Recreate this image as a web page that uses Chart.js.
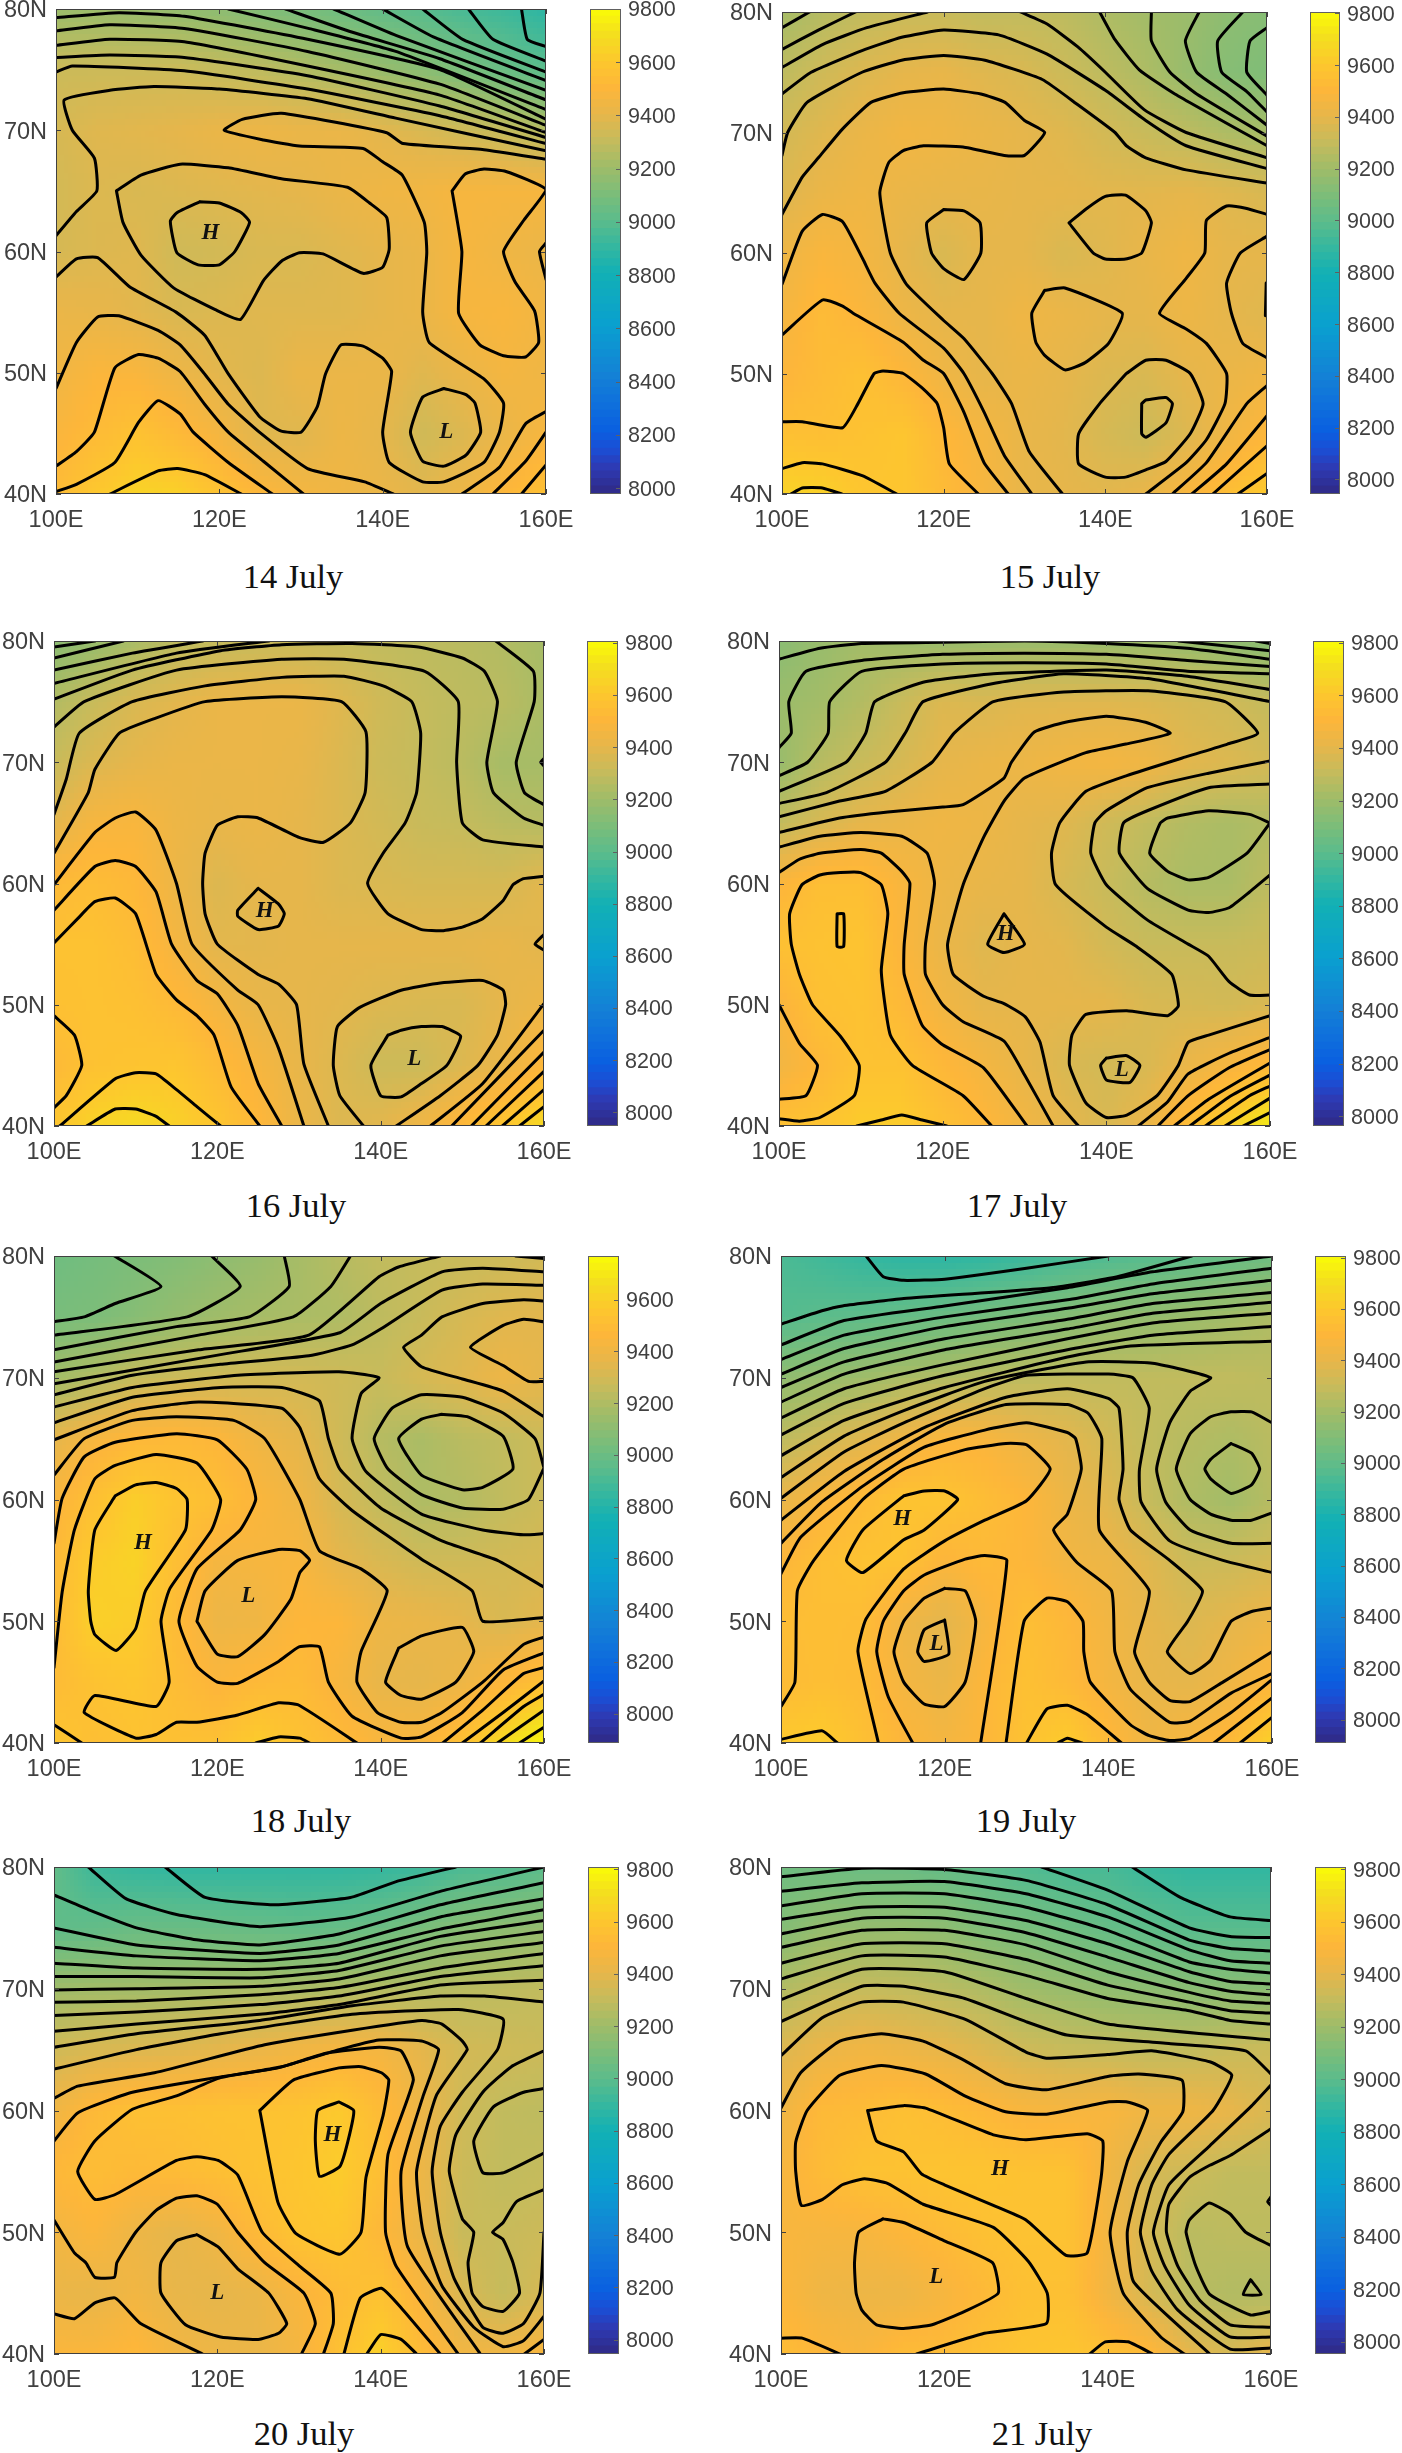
<!DOCTYPE html>
<html>
<head>
<meta charset="utf-8">
<title>Geopotential height, 14-21 July</title>
<script src="https://cdn.jsdelivr.net/npm/chart.js@4"></script>
<style>
  html, body { margin: 0; background: #fff; }
  #page { position: relative; width: 1402px; height: 2453px; overflow: hidden; }
  #page canvas { position: absolute; }
  .day { position: absolute; transform: translate(-50%, -50%); font: 34.5px 'Liberation Serif', serif; color: #111; white-space: nowrap; }
</style>
</head>
<body>
<div id="page"></div>
<script>
// ---- Shared axes ---------------------------------------------
const lonGrid = [100, 105, 110, 115, 120, 125, 130, 135, 140, 145, 150, 155, 160];
const latGrid = [80, 75, 70, 65, 60, 55, 50, 45, 40];
const lonTicks = [100, 120, 140, 160];
const latTicks = [40, 50, 60, 70, 80];
const barTicks = [8000, 8200, 8400, 8600, 8800, 9000, 9200, 9400, 9600, 9800];

// colour ramp (height -> colour)
const rampValues = [7960, 8060, 8130, 8200, 8300, 8400, 8600, 8800, 8900, 9000, 9100, 9200, 9300, 9400, 9500, 9600, 9700, 9805];
const rampColors = ['#2f2a85', '#2d3bb5', '#1a4fd6', '#0a60e0', '#0f70dc', '#1480d6', '#0aa0cf', '#12b0b5', '#35b79f', '#5cbc8b', '#7cbd79', '#9fbc69', '#c5bb5c', '#e6b64b', '#fdb63a', '#fdc72e', '#f4de1f', '#fafc06'];

// ---- Height fields, rows follow latGrid, columns lonGrid ---------
const field14 = [
  9190,9190,9180,9170,9150,9120,9090,9060,9020,8990,8950,8920,8880,
  9320,9320,9320,9320,9300,9280,9250,9220,9180,9140,9090,9040,9000,
  9350,9380,9390,9400,9420,9430,9420,9420,9390,9360,9330,9300,9260,
  9340,9370,9360,9370,9380,9390,9400,9420,9440,9450,9470,9470,9470,
  9350,9370,9380,9330,9340,9360,9360,9380,9400,9420,9470,9440,9420,
  9420,9410,9390,9360,9370,9380,9380,9380,9400,9420,9470,9480,9450,
  9440,9490,9480,9430,9390,9370,9420,9420,9420,9380,9420,9460,9440,
  9480,9530,9570,9520,9460,9380,9380,9430,9400,9330,9370,9420,9470,
  9530,9600,9650,9640,9570,9500,9460,9440,9420,9390,9430,9500,9560];
const field15 = [
  9220,9260,9290,9310,9310,9290,9290,9280,9240,9210,9190,9150,9130,
  9280,9330,9370,9400,9410,9380,9360,9320,9280,9240,9180,9130,9110,
  9340,9380,9420,9450,9440,9420,9400,9380,9340,9310,9280,9240,9220,
  9370,9420,9440,9420,9410,9410,9400,9400,9390,9390,9400,9380,9360,
  9430,9480,9460,9400,9360,9400,9400,9360,9380,9410,9440,9400,9400,
  9460,9530,9490,9430,9400,9400,9440,9420,9400,9400,9430,9400,9380,
  9490,9530,9560,9500,9440,9400,9420,9400,9370,9360,9400,9420,9440,
  9560,9550,9570,9590,9510,9460,9410,9390,9350,9320,9370,9440,9500,
  9650,9640,9590,9590,9530,9470,9410,9400,9390,9410,9480,9540,9610];
const field16 = [
  9140,9180,9230,9280,9300,9310,9310,9300,9290,9280,9270,9250,9220,
  9250,9310,9360,9390,9420,9420,9420,9380,9330,9300,9280,9270,9230,
  9310,9370,9400,9420,9420,9420,9410,9370,9320,9300,9270,9220,9220,
  9390,9470,9480,9430,9410,9420,9400,9370,9340,9310,9300,9270,9260,
  9520,9540,9510,9430,9370,9400,9400,9370,9360,9350,9350,9350,9390,
  9570,9570,9540,9460,9390,9390,9400,9400,9400,9400,9400,9410,9390,
  9560,9570,9560,9520,9460,9410,9400,9390,9370,9360,9360,9400,9430,
  9520,9570,9580,9590,9530,9470,9410,9370,9320,9320,9370,9420,9500,
  9590,9650,9680,9640,9590,9510,9420,9370,9390,9440,9510,9590,9680];
const field17 = [
  9140,9180,9210,9200,9190,9190,9190,9190,9190,9190,9180,9160,9140,
  9190,9210,9250,9310,9370,9360,9380,9380,9380,9370,9350,9330,9300,
  9180,9260,9310,9350,9400,9420,9430,9450,9460,9440,9390,9370,9340,
  9290,9350,9400,9420,9440,9430,9400,9380,9330,9290,9250,9230,9250,
  9490,9550,9550,9480,9430,9410,9400,9350,9310,9260,9230,9230,9280,
  9560,9570,9580,9490,9420,9380,9400,9390,9340,9310,9310,9310,9320,
  9480,9560,9570,9520,9450,9400,9400,9400,9400,9360,9350,9340,9360,
  9450,9510,9570,9570,9510,9460,9410,9360,9340,9360,9420,9470,9520,
  9560,9580,9620,9620,9560,9510,9450,9400,9360,9420,9540,9640,9740];
const field18 = [
  9060,9080,9100,9120,9150,9180,9220,9260,9290,9300,9310,9320,9340,
  9090,9100,9130,9170,9200,9220,9230,9240,9280,9310,9350,9380,9390,
  9210,9250,9300,9320,9330,9340,9340,9330,9310,9350,9380,9430,9400,
  9400,9470,9510,9520,9500,9440,9400,9330,9260,9230,9270,9290,9320,
  9480,9560,9630,9580,9550,9490,9440,9350,9290,9240,9250,9290,9320,
  9520,9620,9650,9550,9460,9470,9480,9400,9360,9330,9330,9340,9350,
  9530,9640,9620,9530,9430,9440,9500,9500,9430,9420,9400,9360,9390,
  9530,9570,9590,9540,9490,9520,9530,9470,9410,9400,9430,9500,9560,
  9590,9550,9570,9560,9560,9620,9570,9530,9480,9480,9560,9680,9780];
const field19 = [
  8960,8930,8900,8880,8880,8890,8920,8950,8970,8990,9010,9040,9060,
  8980,9000,9010,9030,9050,9080,9100,9130,9160,9170,9190,9210,9240,
  9160,9180,9200,9230,9250,9270,9280,9290,9290,9290,9290,9290,9280,
  9280,9330,9380,9440,9490,9480,9430,9390,9340,9290,9260,9240,9270,
  9410,9480,9530,9580,9580,9540,9500,9430,9380,9300,9240,9210,9260,
  9500,9550,9570,9570,9490,9520,9500,9450,9430,9380,9320,9320,9340,
  9540,9550,9540,9440,9390,9470,9550,9510,9450,9400,9370,9400,9430,
  9530,9550,9530,9460,9420,9500,9560,9520,9460,9410,9400,9440,9500,
  9610,9620,9560,9500,9460,9500,9570,9620,9520,9440,9480,9520,9640];
const field20 = [
  9020,8920,8900,8890,8890,8890,8890,8890,8900,8920,8960,8970,9000,
  9010,9020,9040,9040,9040,9030,9020,9030,9050,9090,9130,9150,9170,
  9200,9210,9210,9210,9220,9230,9230,9240,9250,9250,9270,9280,9290,
  9330,9360,9370,9380,9400,9420,9450,9470,9460,9400,9340,9330,9320,
  9440,9520,9560,9560,9570,9570,9580,9610,9530,9430,9330,9290,9280,
  9510,9540,9520,9530,9550,9570,9590,9620,9550,9430,9320,9290,9300,
  9450,9490,9430,9400,9440,9520,9580,9590,9510,9420,9310,9310,9320,
  9420,9410,9450,9410,9400,9420,9480,9530,9570,9480,9360,9300,9350,
  9490,9490,9510,9450,9430,9420,9460,9560,9640,9530,9450,9440,9480];
const field21 = [
  9060,9060,9050,9050,9030,9000,8970,8950,8950,8910,8890,8890,8890,
  9120,9170,9170,9170,9150,9110,9090,9060,9030,9010,8990,8990,8990,
  9250,9290,9300,9290,9270,9240,9200,9180,9160,9150,9140,9140,9140,
  9370,9420,9450,9430,9410,9370,9330,9310,9300,9290,9290,9310,9320,
  9440,9520,9530,9560,9540,9510,9480,9470,9480,9440,9440,9410,9360,
  9470,9530,9570,9570,9580,9580,9570,9570,9450,9350,9320,9290,9290,
  9480,9470,9470,9500,9530,9560,9570,9570,9460,9350,9270,9280,9280,
  9490,9440,9430,9430,9470,9520,9560,9560,9450,9350,9270,9250,9250,
  9540,9500,9480,9530,9530,9560,9580,9590,9560,9520,9400,9350,9400];

// ---- Contour lines, each one lon,lat,lon,lat,... ----------------
const lines14 = [
  [157,80,157.7,77.5,160,76.9],
  [150.5,80,153.5,77.5,160,75.7],
  [144.9,80,149.8,77.5,160,74.8],
  [140,80,146.2,77.7,160,74.1],
  [134,80,141.7,77.8,160,73.3],
  [128.1,80,136.2,78.1,147,75.9,160,72.5],
  [121.1,80,130.9,78.4,141.6,76.5,160,71.7],
  [100,79.3,107.7,79.7,115.7,79.4,130.8,77.5,147,75,160,70.9],
  [100,78.2,106.6,78.7,115.7,78.4,130.8,76.5,147,73.8,160,70.4],
  [100,77,106.6,77.5,115.7,77.3,130.8,75.3,147,72.9,160,69.8],
  [100,76,106.6,76.2,115.7,76,130.8,74.5,147,72,160,69.4],
  [100,74.8,102,75.3,115.7,74.9,130.8,73.4,147,71.2,160,68.9],
  [100,61.3,102.5,63.3,105,65,104.7,67.7,102,70,101,72.5,106.6,73.3,112,73.6,120,73.4,130.8,72.6,141.6,71,160,68.3],
  [160,67.6,152.4,68.4,142.5,68.9,140.5,69.8,127.6,71.4,122.8,70.9,120.6,70,125.4,69.2,129.8,68.7,137.6,68.5,140,67.4,142.4,66.3,145.1,62.4,145.4,59.9,144.9,55,145.7,52.5,152.4,49.5,154.8,47.5,154.3,45.1,152.4,42.6,147.5,41,144.9,41,140.8,42.6,140,45.1,141.1,50.1,140,51.2,137.6,52.2,134.9,52.3,133,49.9,132,47.2,130,45.1,127.5,45.2,124.9,46.4,121.1,49.9,118.2,53.1,114.7,55,109,57.1,105.1,59.5,102.5,59.4,100,57.9],
  [117.6,64.1,120,64,122.7,63.2,123.7,62.4,121.9,60,120,58.9,117.4,58.9,114.8,59.9,114,62.5,114.8,63.2,117.6,64.1],
  [107.4,65,110.4,66.3,115.2,67.2,121.1,66.9,127.6,66,135.7,65.3,138.4,64,140.5,62.8,140.8,60.2,140,58.7,137.6,58.2,132.7,59.8,129.8,59.9,127.6,59.2,125.4,57.6,122.6,54.4,119.5,55.2,114.4,57,110.4,59.7,108.2,62.4,107.4,65],
  [148.5,65,150.1,66.4,152.4,66.8,155.1,66.6,160,65.1,157.3,62.6,154.8,60,156.2,57.5,158.6,55.1,159.1,52.5,157.5,51.3,154.8,51.4,151.9,52.3,149.3,54.9,149.7,60,148.5,65],
  [160,60.7,159.2,60,160,57.7],
  [147.5,48.7,150.2,48.2,151.3,47.5,152,45.1,150.2,43.2,147.5,42.3,144.9,42.7,143.4,45.1,144.9,48,147.5,48.7],
  [100,48.7,102.5,52.5,105.1,54.6,107.7,54.7,112.5,53.5,115.2,52.3,118.2,49.9,121.1,47.4,124.9,45.1,130.8,42.1,137.8,41,141.3,40],
  [100,42.3,102.5,43.5,104.7,45.1,107.2,50.4,110.1,51.5,112.5,51.2,115.2,50.1,118.2,47.4,121.1,45.1,125.4,42.7,130.3,40],
  [100,40.2,102.5,40.8,107.2,42.6,110.1,45.9,112.5,47.7,115.2,46.6,116.8,45.1,121.1,42.6,126.5,40],
  [106.6,40,112.5,41.9,114.9,42.1,118.2,41.6,122.7,40],
  [149.7,40,154.3,42.2,157.5,45.8,160,46.8],
  [153.5,40,157.5,42.7,160,45.1],
  [157,40,160,42.4]];
const lines15 = [
  [100,78.7,103.4,80],
  [100,76.9,104.5,78.5,109.1,80],
  [100,75.4,105,77.3,110.5,78.7,118,80],
  [100,73.2,103.6,75,109.9,76.8,114.8,77.9,120,78.5,126.8,78.1,132.8,76.5,140,73.5,145,71,150,68.9,160,67],
  [100,68.1,100.7,70,103.1,72.5,109.9,75,114.8,76,120,76.4,125.1,76,132.2,74.4,136.6,72.3,141.2,70,142.6,68.9,145,67.9,150,66.9,160,65.8],
  [100,63.2,102.5,66.3,104.5,67.9,107.5,70.3,111,72.5,115,73.3,120,73.6,124.6,73.2,127.6,72.5,130,71,132.5,70,130,68.1,127.5,68.1,122.4,68.8,117.5,68.9,115,68.5,113.2,67.5,112.1,65,113.4,60,115.4,57.4,120,54.4,122.5,52.9,126,50,128.4,47.5,130.6,43.5,134.7,40],
  [100,57.4,102.5,61.8,105,63.2,107.5,62.6,110,59.5,111.5,57.5,114.5,55,120,52.1,122.5,50,125,46.8,127.5,43.2,130.9,40],
  [100,53.2,105,56.1,107.5,55.6,108.8,55,115,52.6,117.5,51.1,120,50,122.5,46.8,125,42.6,128,40],
  [100,46,102.5,46,107.5,45.5,109.4,47.5,111.4,50,112.5,50.2,115,50,117.5,48.7,119.2,47.5,120,45.5,120.7,42.5,124.3,40],
  [100,42.1,102.5,42.6,105,42.5,110,41.5,114.2,40],
  [101.1,40,102.5,40.5,105,40.5,107.4,40],
  [160,78.7,157.9,77.6,157.5,75,160,73.1],
  [157,80,153.9,77.6,154.4,75,157.5,73.4,160,71.7],
  [151.6,80,149.9,77.6,151.3,75,155,73.2,160,70.6],
  [145.7,80,145.7,77.6,148,75,151.3,73.2,160,69.7],
  [139.3,80,141.2,77.7,144.2,75.2,148.6,73.2,160,68.9],
  [129.5,80,132.8,79,136.6,77.1,140,75,144.8,71.9,150,70,160,67.9],
  [120,63.6,122.5,63.5,124.5,62.5,124.6,60,122.5,57.8,120,58.7,118.5,60,117.9,62.5,120,63.6],
  [135.5,62.5,137.7,63.7,140,64.7,142.5,64.8,145,63.5,145.7,62.5,144.5,60,142.5,59.5,140,59.5,138.5,60,135.5,62.5],
  [132.5,56.9,135,57.1,142.1,55,140.4,52.5,137.5,50.9,135,50.3,132.5,51.5,131.4,52.6,130.9,55,132.5,56.9],
  [142.6,50,145,51.1,147.5,51.1,150.5,50,152.1,47.5,150.5,45,147.5,42.7,145,42,142.5,41.4,140,41.4,136.7,42.5,136.7,45,139.3,47.5,142.6,50],
  [144.5,47.5,145,47.8,147.5,48,148.3,47.5,147.5,45.9,145,44.7,144.5,45,144.5,47.5],
  [160,63.2,157.5,63.7,155,63.9,152.5,62.7,152.3,60,150,57.9,146.7,55,150,53.7,152.5,52.5,155,50,154.8,47.5,152.5,44.5,150,42.6,145,40],
  [160,61.4,156.7,60,155,57.5,155.6,55,157,52.5,160,51.3],
  [159.9,57.5,159.8,54.8],
  [148.3,40,152.5,42.6,157.5,47.5,160,49],
  [150.7,40,155,42.5,160,46.5],
  [153.3,40,160,44],
  [156.4,40,160,41.7]];
const lines16 = [
  [100,79.5,105,80],
  [100,78.6,108.5,80],
  [100,77.6,109.6,79,118.2,80],
  [100,76.5,115,79,126.3,80],
  [100,75.2,109.6,77.6,120.4,79.2,127.9,79.7,136.5,79.8,144.6,79.5,150,78.6,152.7,77.5,154.3,75,153,70,153.8,67.5,157.5,65.4,160,64.8],
  [100,72.9,103.7,75,115,77.6,127.9,78.5,135.5,78.5,145.4,77.5,149.5,75,149.3,70,150,65,152.5,63.6,160,63],
  [100,65.7,101.5,68.6,103.1,72.4,109.6,75,118.5,76.3,127.9,77,135.5,77.1,140.3,76.3,143.8,75,144.9,72.4,144.4,67.5,143,65,140.3,62.5,138.4,60,140.9,57.5,145,56.2,147.5,56.1,150,56.4,152.5,57.1,155,58.6,156.2,59.9,157.5,60.4,160,60.6],
  [100,62.5,104.2,67.5,105,69.4,108,72.4,112.3,73.6,118.5,75,127.9,75.4,135.2,75,138.2,72.5,138.1,67.5,136.3,65,133,63.4,130,63.8,125,65.4,122.5,65.5,120,64.8,118.5,62.5,118.2,60,118.5,57.5,120,55,125,52.5,127.5,51.7,129.7,50,130.6,45.1,133.6,40],
  [154.1,80,158.7,77.5,158.8,75,156.6,70,157.6,67.5,160,66.5],
  [160,70.3,159.6,70,160,69.7],
  [100,59.9,105,64.2,107.5,65.4,110,65.9,112.5,64.4,115,60,116.9,55,122.5,51.2,125,50,127.5,46.4,130.6,40],
  [100,57.8,105,61.4,107.5,61.9,110,61.4,112.5,59.3,114.4,55,117.5,52,120,50.9,122.5,48.3,125,43.5,127.9,40],
  [100,55.1,102.9,57.1,105,58.5,107.5,58.8,110,57.5,112.5,52.5,115,50.4,117.5,49.1,119.6,47.5,121.7,43.2,125.2,40],
  [100,49.1,102.5,47.5,103.4,45,101.5,42.5,100,41.5],
  [100.7,40,107.5,43.9,110,44.4,112.5,44.3,115,43,117.5,41.6,120.4,40],
  [104,40,107.5,41.4,110,41.4,112.5,40.8,114.1,40],
  [125,59.6,127.5,58.3,128.2,57.5,127.5,56.5,125,56.2,122.5,57.3,122.5,57.8,125,59.6],
  [137.9,40,135,42.5,134.2,45,134.7,48.2,137.5,49.8,142.5,51.2,147.3,51.8,152.5,52,155,51.2,155.3,50,154.3,47.5,151.9,45,147.3,42.5,141.9,40],
  [140.9,47.5,142.5,47.9,145,48.2,147.5,48.2,149.8,47.4,148.1,45,145,43.5,142.5,42.4,140,42.5,138.8,45,140.9,47.5],
  [160,55.8,158.9,55,160,54.5],
  [146.1,40,152.5,43.5,160,50.1],
  [148.7,40,160,47.9],
  [151.1,40,160,46.1],
  [152.9,40,160,44.5],
  [154.9,40,160,43],
  [157,40,160,41.6]];
const lines17 = [
  [158.3,80,160,79.8],
  [148.8,80,160,79.2],
  [100,78.5,105,79.4,110.1,79.8,120,79.9,130,80,140,79.8,149.9,79.4,160,78.5],
  [100,71.2,101.5,72.4,101.2,75,103.3,77.5,110.1,78.4,120,78.9,130,79,140,78.9,149.9,78.4,160,77.9],
  [100,68.9,103.5,70,106,72.4,106.2,75,110.1,77.5,120,78.1,130,78.2,140,78.1,149.9,77.5,160,77.3],
  [100,67.6,108.2,70,110.6,72.4,111.7,75,117.6,76.6,126.2,77.3,140,77.6,149.9,77.1,160,76],
  [100,66.6,105.8,67.5,113,70,115.5,72.5,117.6,75,126.2,76.5,134.8,77.3,145.1,76.9,160,75],
  [100,65.5,107.4,66.8,113,67.6,118.7,70,121.4,72.4,126.2,75,134.8,75.8,145.1,75.9,154.5,75,158.5,72.4,154.8,71.5,150,70.5,142.5,68.9,137.5,67.6,134.3,65,133.3,62.5,133.8,59.9,140,56.4,143.7,54.8,148,52.5,148.8,49.9,147.5,49.1,142.5,49.5,137.5,49.2,135.8,47.5,135.5,45,137.5,41.9,140,40.7,142.5,40.9,146.2,42.5,148.8,45,150,46.9,152.5,47.5,160,49.1],
  [100,64.2,107.4,65.4,113.3,65.9,120,66.3,122.5,66.5,127.5,68.7,128.4,70,131.2,72.5,135,73.3,140,73.8,144.8,73.3,147.8,72.4,142.4,71.5,137.5,70.8,130,68.7,127.5,66.8,125,63.8,122.5,59.9,120.6,55,121.3,52.5,125,50.7,127.5,50.1,130.1,49,131.9,46.9,133.5,42.5,136.6,40],
  [100,63,105,63.9,110,64.2,115,63.9,118.1,62.5,119,60,117.9,55,117.9,52.5,120,50,122.5,48.6,127.5,47,130.1,44.1,133.5,40],
  [100,60.9,102.5,62,105,62.5,110,62.8,112.5,62.5,115,61,116,60,115.3,55,115.3,52.5,117.5,48.3,120,46.7,125,44.8,130.3,40],
  [100,50,102.5,46.8,104.7,45,103.3,42.5,100,42.2],
  [100,40.6,102.5,40.4,105,40.7,109.2,42.5,109.8,45,107.5,47.4,104.1,50,102.5,52.5,101.5,55,101.3,57.5,102.8,59.9,105,60.7,107.5,60.9,110,60.9,112.5,59.9,113.3,57.5,112.5,52.8,113.6,47.5,116.3,45,122.5,42.5,126,40],
  [107.1,57.5,107.9,57.5,107.9,54.8,107.1,54.8,107.1,57.5],
  [127.5,57.5,130,55,127.5,54.3,125.5,55,127.5,57.5],
  [140,45.6,142.5,45.8,144.1,45,142.9,43.6,140,43.8,139.3,45,140,45.6],
  [109.5,40,112.5,40.5,115,40.9,117.5,40.5,120.5,40],
  [160,70.1,152.5,69.1,145,67.9,140,66,138.6,65,138.1,62.5,140,59.9,145,57,150,55,152.5,54,155,51.9,157.5,50.8,160,50.8],
  [160,68.2,152.5,67.9,145,66,142.1,65,141.6,62.5,145,59.6,150,57.8,152.5,57.6,155,58,157.5,59.3,160,60.7],
  [160,65,157.5,65.7,152.5,66,147.5,65.4,146.6,65,145.3,62.5,147.5,61,150,60.3,152.5,60.5,157.2,62.5,160,65],
  [143.9,40,147.5,42,150,44.3,155,46,160,47.3],
  [146.3,40,150,42.5,155,44.8,160,46.3],
  [148.3,40,152.5,42.2,160,45.2],
  [150.2,40,155,42.4,160,44.2],
  [152.1,40,157.5,42.5,160,43.3],
  [154.5,40,160,42.3],
  [156.7,40,160,41.1]];
const lines18 = [
  [107.4,80,113.1,77.5,107.5,76.1,103.7,75,100,74.6],
  [119.3,80,122.8,77.5,116.3,75,100,73.5],
  [128.2,80,128.8,77.5,123.9,75,115,74.2,100,72.3],
  [136.3,80,133.9,77.5,129.3,75,117.7,73.5,100,71.3],
  [147.3,80,142.2,79.1,139.8,78.3,131.2,73.5,117.7,72.3,100,70.5],
  [100,69.5,120.4,71.9,135,73.7,140,76.1,147.5,78.7,152.5,79,160,78.7],
  [100,68.6,109.6,70.2,120.4,71.1,131.2,71.8,136.5,72.7,140,74,147.5,77.2,152.5,77.7,160,77.6],
  [156.5,80,160,79.8],
  [100,67.6,109.6,69.2,122.5,70.2,134.9,70.5,139.8,70,137.6,68.7,136.5,65,138.2,62.3,145,58.8,152.5,57.5,157.5,57.1,160,57.2],
  [100,66.3,109.6,68.4,120.4,69.2,127.9,69.2,132.5,68.1,133.6,65,135,62.5,140,59.3,147.5,56.6,154.3,55,160,52.8],
  [100,64.9,109.6,67.3,117.7,68,127.9,67.5,130.1,65.9,132.5,61.7,136.5,59.1,145,55.1,151.2,52.5,152.5,50,160,50.3],
  [100,62,103.7,65,109.6,66.5,115,66.8,122,66.5,125.8,65,130.1,60,132.5,55.8,137.6,54.3,140.8,52.5,137.6,47.5,137.1,45,139.6,42.5,142.5,41.7,145,41.7,147.5,42.5,152.5,45,157.5,48.1,160,48.7],
  [100,56.4,101,60.1,103.7,63.5,107.5,64.7,115,65.4,120,64.9,123.6,62.5,124.7,60,122.8,57.5,117.5,54.3,115.3,50,117.5,46.3,120,45,122.5,44.9,127.5,46.7,130,47.9,132.5,47.9,133.6,45,136.5,42.2,142.5,40.4,145,40.5,150,42.5,155,46,160,47.4],
  [100,46.2,101,52.4,102.5,57.5,105,61.7,107.5,62.8,112.5,63.7,117.5,63,120.4,60,119.3,57.5,114.2,52.7,113.1,50,114.1,45,112.5,43,105,43.9,103.7,42.5,110,40.4,112.5,40.7,115,41.7,117.5,41.7,122.5,42.3,127.5,43.3,130,43.1,137.1,40],
  [107.5,60.3,110,61.2,112.5,61.4,115,60.9,116.3,60,116.1,57.5,111.2,52.5,110,49.4,107.6,47.6,105,48.9,104.5,50,104.2,52.5,105,57.5,107.5,60.3],
  [117.5,50,118.5,52.5,122.5,55,127.5,55.9,130.1,55.8,131.3,55,130.1,54,129,51.8,125.8,48.9,122.5,47.1,120,47.3,117.5,50],
  [142.2,47.8,145,48.8,150,49.5,151.4,47.5,149.2,45,145,43.6,142.5,43.9,140.6,45,142.2,47.8],
  [160,62.6,158.9,65,155,67.1,150,68.4,145,68.6,141.4,67.5,139.2,65,140.9,62.5,145,60.4,150,59.3,155,59.2,158.1,60,160,62.6],
  [147.5,67,150.6,66.8,155,65.2,156.2,62.5,152.5,61,150,60.8,145,62,142.2,65,145,66.6,147.5,67],
  [160,76.3,157.5,76.4,152.5,76.1,147.5,75,145,73.5,142.8,72.5,145,70.9,150,69.9,155,68.9,160,66.8],
  [160,74.6,157.5,74.8,155,74.3,151,72.5,155,71,158.1,69.7,160,69.7],
  [100,41.5,103.4,40],
  [124.7,40,127.5,40.5,130.1,40.4,131.3,40],
  [147.6,40,152.5,42.7,157.5,45.7,160,46.2],
  [150,40,155,42.5,160,45.1],
  [152.2,40,157.5,43,160,44],
  [154.3,40,160,42.7],
  [157,40,160,41.3]];
const lines19 = [
  [110.4,80,112.5,78.3,115,78,120,78.1,130,79,140,80],
  [100,74.4,105,75.5,107.5,75.9,115,76.5,133,77.4,141.1,78.3,150.2,80],
  [100,72.7,107.7,74.7,120,75.9,135,77.4,145.4,78.7,160,80],
  [100,71.5,107.7,73.5,120,75,135,76.4,145.4,77.7,160,79],
  [100,70.3,107.7,72.4,120,74.2,135,75.7,145.4,76.9,160,78],
  [100,69.2,107.7,71.3,120,73.2,135,74.8,145.4,76.1,160,77],
  [100,68,107.7,70.3,120,72.3,135,74,145.4,75.3,160,76.2],
  [100,66.7,107.7,69.1,120,71.1,135,73.2,145.4,74.5,160,75.3],
  [100,65.3,107.7,67.9,120,70.2,135,72.3,145.4,73.5,160,74.2],
  [100,63.6,107.7,66.5,120,69.2,135,71.7,142.7,72.6,160,73],
  [100,61.8,107.7,65.2,115,67.3,124.9,69.7,137.3,71.3,145.4,71.2,152.5,70,150,68.9,147.5,66.3,145.9,62.5,147,59.8,150,57.5,155,56.4,160,56.4],
  [100,60.1,107.7,63.9,115,66.3,124.9,69.1,130,70.2,140,70.3,143,70,145,67.5,143.8,62.5,144,59.8,147.5,56.6,154,55,160,54],
  [100,58.3,107.7,62.3,117.5,65.9,127.5,68.4,135,69.1,140,68.3,141.3,67.5,141.8,62.5,141.3,60,142.7,57.5,147.5,55,151.5,52.5,149.7,50,147.2,47.5,150,45.7,152.5,46.8,155,50,157.5,50.8,160,51.1],
  [100,56.4,105,59.8,112.5,63.3,120,66.2,127.5,67.8,135,67.8,137.5,67.1,139.2,65,138.9,57.5,145,52.5,143.2,47.5,145,45,147.5,43.5,150,43.4,154,45,160,47.5],
  [100,53.9,102.4,56.9,110,61.1,117.5,64.3,124.9,65.7,130,66.3,135,65.5,136,65,136.7,62.5,135,58.8,133.3,57.5,136.2,54.8,140.4,52.5,140.8,47.5,142.7,44.4,147.5,41.7,150,41.8,155,44.1,160,45.7],
  [100,43,101.7,45,102,52.5,104,55,110,60,115,62.5,122.5,64.1,127.5,64.6,130,64.5,132.9,62.5,130,59.9,124.9,58.3,120,56.6,115,54.3,110.4,50.2,109.4,47.5,111.9,40],
  [100,40.3,105,41,106.9,40],
  [115,60.3,117.5,60.7,120,60.7,121.6,60,117.5,57.5,115,56.7,110,54,108,55,110,57.5,115,60.3],
  [116.1,40,113.1,43.8,111.7,47.5,112.5,50,115,52.5,117.5,53.8,122.5,55.1,124.9,55.4,127.6,55,124.4,40],
  [120,52.7,122.5,52.5,123.8,50,122.5,45,120,43,117.5,43.2,115,45,113.8,47.5,115,50,117.5,51.9,120,52.7],
  [120,50.1,120.5,47.3,117.5,46.7,116.7,47.5,117.5,49.3,120,50.1],
  [127.5,40,129.7,50,132.5,51.9,135,51.6,136.9,50,137,47.5,137.8,45,142.7,41.5,145,40.6,147.5,40.2,150,40.4,155,42.5,160,45.2],
  [130,40,132.5,42.8,135,43.1,137.5,42.3,141.6,40],
  [133.8,40,135,40.4,136.8,40],
  [152.9,40,160,43.7],
  [156.1,40,160,42.1],
  [160,66.3,157.5,67.2,155,67.2,152.5,66.8,150,65.4,148.3,62.5,150,60,152.5,58.8,155,58.3,157.5,58.3,160,58.9],
  [155,64.6,157.5,63.8,158.5,62.5,157.5,61.2,155,60.5,152.5,61.7,151.8,62.5,152.5,63.3,155,64.6]];
const lines20 = [
  [113.6,80,118.5,77.5,126.8,76.9,136.3,77.5,141.9,78.8,149.2,80],
  [104.2,80,108.8,77.4,115,76.1,125.2,75.1,136.5,75.9,147.3,78,160,80],
  [100,77.7,104.2,76.5,110.1,75,117.7,74,125.2,73.6,134.9,74.5,147.3,76.9,160,78.7],
  [100,75,110.1,73.6,125.2,72.9,134.9,73.6,147.3,75.9,160,77.4],
  [100,73.4,110.1,72.7,125.2,72.3,134.9,72.9,147.3,74.9,160,76.5],
  [100,72.1,110.1,71.7,125.2,71.6,134.9,72.1,147.3,74.3,160,75.6],
  [100,71,110.1,71,125.2,70.9,134.9,71.5,147.3,73.5,160,74.7],
  [100,69.9,110.1,70,125.2,70.2,134.9,70.8,147.3,72.7,160,73.8],
  [100,68.9,110.1,69,125.2,69.5,134.9,70.1,147.3,71.7,160,72.9],
  [100,67.8,110.1,68.1,125.2,68.7,134.9,69.4,147.3,71,160,71.9],
  [100,66.5,110.1,67.1,125.2,67.9,134.9,68.7,147.3,70.3,160,70.7],
  [100,65.2,110.1,66.3,125.2,67.4,136.5,68.6,147.3,69.4,152.7,69.4,160,68.9],
  [100,63.4,110.1,65,120.4,66.3,136.5,67.9,149.5,68.3,155,67.5,154.3,65,150,61.5,147.3,58.7,146.3,55,147.3,50,149,46.2,152.5,42.2,155,41.7,157.5,42.5,159.5,45,160,50],
  [100,61,102.9,62,112.3,63.1,125.8,65.4,136.5,66.6,145,67.4,147.5,67.1,150,65.7,150.6,65,146.8,61.2,144.4,55,145.2,50,147.5,45.6,151.4,42.2,155,40.6,157.5,41.1,160,43.1],
  [100,57.5,102.9,59.8,109.6,61.5,119.8,62.7,127.4,63.5,134.9,65,139.8,65.8,145,65.7,147.1,65,145.2,61.2,142.5,55,143.3,48.8,152.2,40],
  [133,40,134.2,42.5,133.9,45,130.1,47.2,125.5,50,122.5,54.7,120.1,55.9,117.5,56.2,115,55.9,107.5,53.1,105,52.7,102.9,55,105,57.5,109.6,60.1,115,61.2,120.4,62.7,127.9,63.6,133.3,64.7,139.8,65.2,142.5,64.9,144,62.5,140.9,56.4,140.6,50,141.9,47.2,149.5,40],
  [125.2,60,129.3,62.5,134.9,63.5,137.6,63.6,140.1,63.1,141,62.5,140.3,59.6,138.2,54.5,137.6,50,135,48.2,129.6,49.9,127.4,52.5,125.2,60],
  [160,64.9,156,63.6,152.5,61.5,149.2,58,148.4,55,150,51.1,151.4,50,150.7,47.5,151.2,45,152.5,43.9,155,43.5,157,45,156.2,47.5,155,49.4,153.7,50,155,50.8,156.6,52.5,160,53.5],
  [160,61.8,157.5,61.5,153.8,60.3,151.4,57.5,152.5,54.9,155.1,54.9,160,56.5],
  [130.3,40,132,42.5,130.6,45,125.8,47.5,122.5,50,120,52.3,117.5,53,115,52.8,112.5,51.8,110,50,107.7,47.5,107.4,46.3,105,46.3,103.9,47.5,102.5,48.3,100,51],
  [100,43.3,102.5,42.9,105,44.2,107.5,44.6,110.6,42.5,118.2,40],
  [117.5,49.8,120.1,48.8,122.5,47,126.3,45,128.5,42.5,127.5,41.7,125,41.2,120.4,41.4,116.1,42.4,113.1,45,113.1,47.5,115,49.3,117.5,49.8],
  [134.9,60.7,136.7,60,136,57.5,135,55.4,132.5,54.6,132,57.5,132.3,60,134.9,60.7],
  [135.5,40,137.5,44.6,140.1,45.4,142.5,43.8,147.3,40],
  [138.3,40,140,41.6,142.5,41.2,144.4,40],
  [157.6,40,160,41.2]];
const lines21 = [
  [143,80,148.9,77.5,155,75.9,160,75.6],
  [131.9,80,140,78.1,150,75,155,74.3,160,74.2],
  [100,79.2,109.9,79.9,120,79.8,130,78.9,140,76.9,150,74,155,73.3,160,73.1],
  [100,78,109.9,78.7,120,78.8,130,77.8,140,75.9,150,73.2,155,72.3,160,72.1],
  [100,76.8,109.9,77.8,120,77.8,130,76.7,140,74.8,150,72.2,155,71.6,160,71.3],
  [100,75.7,109.9,76.7,120,76.7,130,75.6,140,73.7,150,71.4,155,70.6,160,70.4],
  [100,74.5,109.9,75.8,120,75.8,130,74.6,140,72.6,150,70.5,155,69.8,160,69.5],
  [100,73.4,109.9,74.8,120,74.8,130,73.6,140,71.4,150,69.7,155,69,160,68.8],
  [100,72.1,109.9,73.7,120,73.7,130,72.4,140,70.3,150,68.9,155,68.2,160,68],
  [100,70.8,109.9,72.7,120,72.6,130,71.1,140,69.2,150,68.2,155,67.4,160,67.1],
  [100,69.1,109.9,71.6,120,71.4,130,69.2,140,67.1,160,65.8],
  [100,67.3,109.9,70.2,115,70.2,122.5,69.2,130,67.3,135,66.2,147.5,65.5,156.9,64.9,160,63],
  [100,64.5,105,67.6,109.9,68.9,115,68.9,122.5,67.5,130,64.8,132.5,64.3,140,64.6,145.4,64.9,152.5,64,155.2,62.9,152.9,60,147.5,56.4,145.4,53.9,144,50,145.4,46.8,148.6,43.6,155,40.4,160,40.5],
  [100,60.2,102.4,63.1,107.2,65.7,112.3,66.3,117.4,65.7,122.5,64.1,127.5,62.2,132.5,61.7,140,62.8,143.8,63,149.1,62.5,149.2,59.9,146.5,57.4,143.8,53.9,142.4,50,143.2,45.9,152.5,40],
  [149.4,40,146.5,41.4,141.9,45,140.3,50,142.4,55.8,144.9,60,142.4,60.7,140,60.7,132.5,59.7,127.5,59.9,122.5,61.2,117.7,63,112.3,63.7,107.2,62.9,103.2,60,101.8,57.4,101.8,55,102.5,52.2,105.1,52.7,107.5,53.9,110.2,54.4,113.1,54,117.4,52.3,126,50.4,130.3,47.6,132.6,45,132.5,42.5,124.9,41.7,116.6,40],
  [110.6,60,115,60.4,117.7,60.2,126,58,130,57.6,137.5,58.1,139.4,57.5,139.2,54.5,137.5,48.3,134.9,48.1,130,51,126,52.2,120,53.9,117.2,54.8,115,56.6,111.7,57.5,110.6,60],
  [160,62.1,157.5,60.3,152.5,57.1,147.5,53.9,145.6,50,147,47.2,150,44,155,41.4,160,41.4],
  [160,58.5,155,56.3,152.5,55.5,150,54.5,147.5,52.3,147.2,50,148.6,47.2,151.3,44.4,155,42.4,160,42.2],
  [160,48.9,156.9,50,155,51.5,152.4,52.4,150,51,149.6,50,150.8,47.2,152.5,44.9,157.5,43.2,160,43.5],
  [112.5,51.1,115,50.8,120,49.3,125.9,47.5,126.6,45,122.5,43.5,118.5,42.4,115,42.1,111.7,42.4,109.9,43.6,109.2,45,109,47.5,109.5,50,112.5,51.1],
  [157.5,46.1,158.8,44.9,156.6,44.9,157.5,46.1],
  [160,52.9,159.6,52.5,160,52.2],
  [100,41.3,102.6,41.3,107.2,40],
  [137.8,40,139.7,41,142.5,41,145.5,40]];

// H and L labels: text, lon, lat
const marks14 = [['H',118.9,61.5],['L',147.8,45.1]];
const marks15 = [];
const marks16 = [['H',125.8,57.7],['L',144.1,45.5]];
const marks17 = [['H',127.7,55.8],['L',141.9,44.6]];
const marks18 = [['H',110.9,56.4],['L',123.8,52.1]];
const marks19 = [['H',114.8,58.4],['L',119,48.1]];
const marks20 = [['H',134.1,58],['L',120,45]];
const marks21 = [['H',126.8,55.2],['L',119,46.3]];

const dayNames = ['14 July', '15 July', '16 July', '17 July', '18 July', '19 July', '20 July', '21 July'];
const fields = [field14, field15, field16, field17, field18, field19, field20, field21];
const lineSets = [lines14, lines15, lines16, lines17, lines18, lines19, lines20, lines21];
const markSets = [marks14, marks15, marks16, marks17, marks18, marks19, marks20, marks21];
const barMins = [7978, 7944, 7948, 7963, 7887, 7909, 7945, 7953];
const barMaxs = [9800, 9805, 9807, 9807, 9769, 9806, 9809, 9809];

// where each panel sits on the page: plot box, colour bar, caption
const layouts = [
  { x0: 56,  x1: 546,  y0: 9,    y1: 494,  bx0: 590,  bx1: 621,  cx: 293,  cy: 576 },
  { x0: 782, x1: 1267, y0: 12,   y1: 494,  bx0: 1310, bx1: 1340, cx: 1050, cy: 576 },
  { x0: 54,  x1: 544,  y0: 641,  y1: 1126, bx0: 587,  bx1: 618,  cx: 296,  cy: 1205 },
  { x0: 779, x1: 1270, y0: 641,  y1: 1126, bx0: 1313, bx1: 1344, cx: 1017, cy: 1205 },
  { x0: 54,  x1: 544,  y0: 1256, y1: 1743, bx0: 588,  bx1: 619,  cx: 301,  cy: 1820 },
  { x0: 781, x1: 1272, y0: 1256, y1: 1743, bx0: 1315, bx1: 1346, cx: 1026, cy: 1820 },
  { x0: 54,  x1: 544,  y0: 1867, y1: 2354, bx0: 588,  bx1: 619,  cx: 304,  cy: 2433 },
  { x0: 781, x1: 1271, y0: 1867, y1: 2354, bx0: 1315, bx1: 1346, cx: 1042, cy: 2433 }
];

const AXIS_COLOR = '#404040';
const LABEL_FONT = { family: "'Liberation Sans', Arial, sans-serif", size: 23.5 };
const page = document.getElementById('page');

// ---- Colour helpers -------------------------------------------
function hexToRgb(h) {
  return [parseInt(h.slice(1, 3), 16), parseInt(h.slice(3, 5), 16), parseInt(h.slice(5, 7), 16)];
}
const rampRgb = rampColors.map(hexToRgb);

function colorFor(v) {
  if (v <= rampValues[0]) return rampColors[0];
  for (let i = 1; i < rampValues.length; i++) {
    if (v <= rampValues[i]) {
      const t = (v - rampValues[i - 1]) / (rampValues[i] - rampValues[i - 1]);
      const a = rampRgb[i - 1], b = rampRgb[i];
      return 'rgb(' + Math.round(a[0] + (b[0] - a[0]) * t) + ',' + Math.round(a[1] + (b[1] - a[1]) * t) + ',' + Math.round(a[2] + (b[2] - a[2]) * t) + ')';
    }
  }
  return rampColors[rampColors.length - 1];
}

// bilinear read of a field at lon/lat, for the shading only
function fieldAt(f, lon, lat) {
  const cols = lonGrid.length;
  const fx = Math.min((lon - lonGrid[0]) / 5, cols - 1.001);
  const fy = Math.min((latGrid[0] - lat) / 5, latGrid.length - 1.001);
  const i = Math.floor(fx), j = Math.floor(fy);
  const tx = fx - i, ty = fy - j;
  const top = f[j * cols + i] * (1 - tx) + f[j * cols + i + 1] * tx;
  const bot = f[(j + 1) * cols + i] * (1 - tx) + f[(j + 1) * cols + i + 1] * tx;
  return top * (1 - ty) + bot * ty;
}

// ---- Plugins ---------------------------------------------------
const shadePlugin = {
  id: 'shade',
  beforeDatasetsDraw(chart, args, opts) {
    const { ctx, scales: { x, y } } = chart;
    const step = 0.5;
    ctx.save();
    for (let lon = 100; lon < 160; lon += step) {
      const px0 = Math.floor(x.getPixelForValue(lon));
      const px1 = Math.ceil(x.getPixelForValue(lon + step));
      for (let lat = 40; lat < 80; lat += step) {
        const py0 = Math.floor(y.getPixelForValue(lat + step));
        const py1 = Math.ceil(y.getPixelForValue(lat));
        ctx.fillStyle = colorFor(fieldAt(opts.field, lon + step / 2, lat + step / 2));
        ctx.fillRect(px0, py0, px1 - px0, py1 - py0);
      }
    }
    ctx.restore();
  }
};

const framePlugin = {
  id: 'frame',
  afterDatasetsDraw(chart, args, opts) {
    const { ctx, chartArea: a, scales } = chart;
    ctx.save();
    ctx.strokeStyle = opts.color || AXIS_COLOR;
    ctx.lineWidth = 1;
    ctx.strokeRect(a.left + 0.5, a.top + 0.5, a.right - a.left - 1, a.bottom - a.top - 1);
    ctx.beginPath();
    if (scales.x && scales.x.type === 'linear') {
      scales.x.ticks.forEach(t => {
        const p = Math.round(scales.x.getPixelForValue(t.value)) + 0.5;
        ctx.moveTo(p, a.bottom); ctx.lineTo(p, a.bottom - 5);
        ctx.moveTo(p, a.top); ctx.lineTo(p, a.top + 5);
      });
    }
    scales.y.ticks.forEach(t => {
      const p = Math.round(scales.y.getPixelForValue(t.value)) + 0.5;
      if (opts.bothSides !== false) { ctx.moveTo(a.left, p); ctx.lineTo(a.left + 5, p); }
      ctx.moveTo(a.right, p); ctx.lineTo(a.right - 5, p);
    });
    ctx.stroke();
    ctx.restore();
  }
};

const marksPlugin = {
  id: 'marks',
  afterDatasetsDraw(chart, args, opts) {
    const { ctx, scales: { x, y } } = chart;
    ctx.save();
    ctx.font = "italic bold 23px 'Liberation Serif', serif";
    ctx.fillStyle = '#111';
    ctx.textAlign = 'center';
    ctx.textBaseline = 'middle';
    opts.items.forEach(m => ctx.fillText(m[0], x.getPixelForValue(m[1]), y.getPixelForValue(m[2])));
    ctx.restore();
  }
};

function toPoints(flat) {
  const pts = [];
  for (let i = 0; i < flat.length; i += 2) pts.push({ x: flat[i], y: flat[i + 1] });
  return pts;
}

function addCanvas(left, top, width, height) {
  const c = document.createElement('canvas');
  c.width = width; c.height = height;
  c.style.left = left + 'px'; c.style.top = top + 'px';
  c.style.width = width + 'px'; c.style.height = height + 'px';
  page.appendChild(c);
  return c;
}

// ---- Map panel ---------------------------------------------------
function drawMap(k) {
  const box = layouts[k];
  const axisW = 54, axisH = 50, padTop = 16, padRight = 34;
  const w = box.x1 - box.x0, h = box.y1 - box.y0;
  const canvas = addCanvas(box.x0 - axisW, box.y0 - padTop, axisW + w + padRight, padTop + h + axisH);
  new Chart(canvas, {
    type: 'scatter',
    data: {
      datasets: lineSets[k].map(line => ({
        data: toPoints(line),
        showLine: true,
        borderColor: '#000',
        borderWidth: 3,
        borderJoinStyle: 'round',
        borderCapStyle: 'round',
        pointRadius: 0,
        tension: 0.15
      }))
    },
    options: {
      responsive: false,
      animation: false,
      layout: { padding: { top: padTop, right: padRight, left: 0, bottom: 0 } },
      events: [],
      plugins: {
        legend: { display: false },
        tooltip: { enabled: false },
        shade: { field: fields[k] },
        marks: { items: markSets[k] },
        frame: {}
      },
      scales: {
        x: {
          type: 'linear', min: 100, max: 160,
          afterBuildTicks: s => { s.ticks = lonTicks.map(v => ({ value: v })); },
          // keep the plot box exact: no extra room for the end labels
          afterFit: s => { s.height = axisH; s.paddingLeft = 0; s.paddingRight = 0; },
          grid: { display: false, drawTicks: false },
          border: { display: false },
          ticks: { color: AXIS_COLOR, font: LABEL_FONT, padding: 12, maxRotation: 0, autoSkip: false, callback: v => v + 'E' }
        },
        y: {
          type: 'linear', min: 40, max: 80,
          afterBuildTicks: s => { s.ticks = latTicks.map(v => ({ value: v })); },
          afterFit: s => { s.width = axisW; s.paddingTop = 0; s.paddingBottom = 0; },
          grid: { display: false, drawTicks: false },
          border: { display: false },
          ticks: { color: AXIS_COLOR, font: LABEL_FONT, padding: 9, labelOffset: 2, autoSkip: false, callback: v => v + 'N' }
        }
      }
    },
    plugins: [shadePlugin, marksPlugin, framePlugin]
  });
}

// ---- Colour bar: a stack of thin floating bars -------------------
function drawBar(k) {
  const box = layouts[k];
  const lo = barMins[k], hi = barMaxs[k];
  const levels = 64, labelW = 62, pad = 14;
  const datasets = [];
  for (let i = 0; i < levels; i++) {
    const a = lo + (hi - lo) * i / levels;
    const b = lo + (hi - lo) * (i + 1) / levels;
    datasets.push({
      data: [[a, b + (i < levels - 1 ? 2 : 0)]],
      backgroundColor: colorFor(7960 + 1845 * (i + 0.5) / levels),
      barPercentage: 1,
      categoryPercentage: 1,
      grouped: false
    });
  }
  const w = box.bx1 - box.bx0, h = box.y1 - box.y0;
  const canvas = addCanvas(box.bx0, box.y0 - pad, w + labelW, h + pad * 2);
  new Chart(canvas, {
    type: 'bar',
    data: { labels: [''], datasets },
    options: {
      responsive: false,
      animation: false,
      events: [],
      layout: { padding: { top: pad, bottom: pad, left: 0, right: 0 } },
      plugins: { legend: { display: false }, tooltip: { enabled: false }, frame: { color: '#606060', bothSides: false } },
      scales: {
        x: { display: false, offset: true },
        y: {
          position: 'right', min: lo, max: hi,
          afterBuildTicks: s => { s.ticks = barTicks.filter(v => v >= lo && v <= hi).map(v => ({ value: v })); },
          afterFit: s => { s.width = labelW; s.paddingTop = 0; s.paddingBottom = 0; },
          grid: { display: false, drawTicks: false },
          border: { display: false },
          ticks: { color: AXIS_COLOR, font: { family: LABEL_FONT.family, size: 21.5 }, padding: 7, labelOffset: 1.5, autoSkip: false, callback: v => String(v) }
        }
      }
    },
    plugins: [framePlugin]
  });
}

dayNames.forEach((name, k) => {
  drawMap(k);
  drawBar(k);
  const label = document.createElement('div');
  label.className = 'day';
  label.textContent = name;
  label.style.left = layouts[k].cx + 'px';
  label.style.top = layouts[k].cy + 'px';
  page.appendChild(label);
});
</script>
</body>
</html>
